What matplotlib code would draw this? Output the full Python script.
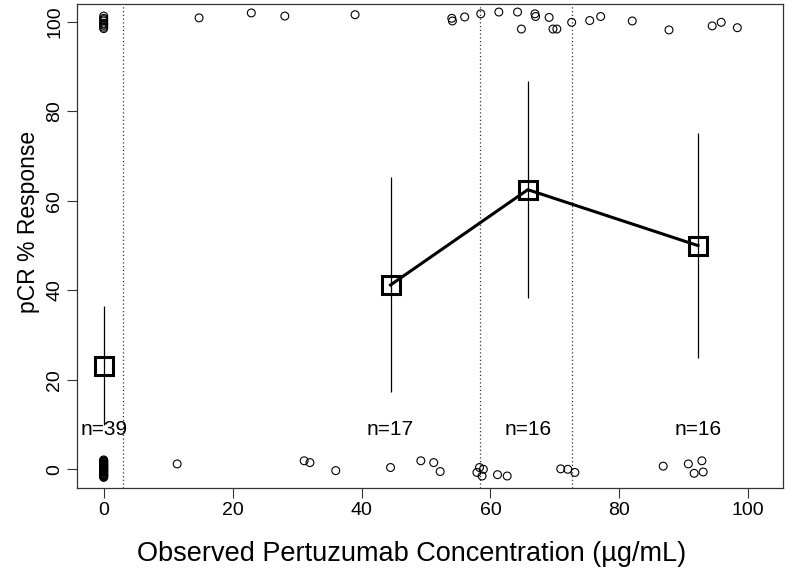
import matplotlib
matplotlib.use("Agg")
import matplotlib.pyplot as plt
from matplotlib import font_manager

# --------------------------------------------------------------------------------------------------------
# Data
# --------------------------------------------------------------------------------------------------------

# responders (jittered around 100)
resp_x = [0, 0, 0, 0, 0, 0, 0, 0, 0,
          14.8, 22.9, 28.1, 39.0, 54.0, 54.1, 56.0, 58.5, 61.3, 64.2, 64.8, 66.9, 67.0,
          69.1, 69.7, 70.3, 72.6, 75.4, 77.1, 82.0, 87.7, 94.4, 95.8, 98.3]
resp_y = [101.3, 100.8, 100.2, 99.7, 99.2, 98.8, 98.5, 100.5, 99.5,
          100.9, 102.0, 101.3, 101.6, 100.8, 100.2, 101.1, 101.8, 102.2, 102.2, 98.4, 101.8, 101.2,
          101.0, 98.4, 98.4, 99.9, 100.3, 101.2, 100.2, 98.2, 99.1, 99.9, 98.7]

# non-responders (jittered around 0)
nonresp_x = [0] * 30 + [11.4, 31.1, 32.0, 36.0, 44.5, 49.2, 51.2, 52.2, 57.9, 58.3, 58.9, 58.7,
                        61.1, 62.6, 70.9, 72.0, 73.1, 86.8, 90.7, 91.6, 92.8, 93.0]
nonresp_y = [2.1, 1.9, 1.7, 1.5, 1.3, 1.1, 0.9, 0.7, 0.5, 0.3, 0.1, -0.1, -0.3, -0.5, -0.7,
             -0.9, -1.1, -1.3, -1.5, -1.7, -1.8, 1.8, 1.2, 0.6, 0.0, -0.6, -1.2, 1.0, -0.2, -1.4] + \
            [1.2, 1.9, 1.5, -0.3, 0.4, 1.9, 1.5, -0.5, -0.7, 0.4, 0.0, -1.5,
             -1.2, -1.5, 0.1, 0.0, -0.7, 0.7, 1.2, -0.9, 1.9, -0.6]

# group summaries
group_x = [0, 44.5, 65.8, 92.2]
group_mean = [23.1, 41.2, 62.5, 50.0]
group_lo = [9.9, 17.3, 38.3, 24.8]
group_hi = [36.6, 65.3, 86.8, 75.2]
group_n = ["n=39", "n=17", "n=16", "n=16"]

# quartile cut points
cut_x = [3.0, 58.4, 72.6]

x_ticks = [0, 20, 40, 60, 80, 100]
y_ticks = [0, 20, 40, 60, 80, 100]

# --------------------------------------------------------------------------------------------------------
# Fonts (no narrow family here, so a smaller regular one stands in for it)
# --------------------------------------------------------------------------------------------------------
names = {f.name for f in font_manager.fontManager.ttflist}
if "Liberation Sans Narrow" in names:
    narrow = ["Liberation Sans Narrow", "Liberation Sans", "DejaVu Sans"]
    tick_size, xlab_size = 15.5, 23.5
else:
    narrow = ["Liberation Sans", "DejaVu Sans"]
    tick_size, xlab_size = 14, 19.5
regular = ["Liberation Sans", "DejaVu Sans"]

# --------------------------------------------------------------------------------------------------------
# Plot
# --------------------------------------------------------------------------------------------------------
fig = plt.figure(figsize=(7.86, 5.77), dpi=100)
ax = fig.add_axes([0.0983, 0.1537, 0.898, 0.8394])

for cx in cut_x:
    ax.axvline(cx, color="#333333", linestyle=(0, (1, 2)), linewidth=0.9)

ax.scatter(resp_x, resp_y, s=32, facecolors="none", edgecolors="black", linewidths=0.8, zorder=3)
ax.scatter(nonresp_x, nonresp_y, s=32, facecolors="none", edgecolors="black", linewidths=0.8, zorder=3)

ax.vlines(group_x, group_lo, group_hi, color="black", linewidth=0.9, zorder=2)
ax.plot(group_x[1:], group_mean[1:], color="black", linewidth=2.2, zorder=4)
ax.plot(group_x, group_mean, linestyle="none", marker="s", markersize=13.4,
        markerfacecolor="none", markeredgecolor="black", markeredgewidth=2.2, zorder=5)

for gx, label in zip(group_x, group_n):
    ax.text(gx, 8.8, label, ha="center", va="center", fontsize=15, family=regular)

ax.set_xlim(-4.1, 105.4)
ax.set_ylim(-4.25, 104.0)
ax.set_xticks(x_ticks)
ax.set_yticks(y_ticks)
ax.set_xticklabels([str(t) for t in x_ticks], family=narrow, fontsize=tick_size)
ax.set_yticklabels([str(t) for t in y_ticks], family=narrow, fontsize=tick_size, rotation=90, va="center")
ax.tick_params(length=7.2, width=0.8, color="#333333", pad=3)
for sp in ax.spines.values():
    sp.set_color("#333333")
    sp.set_linewidth(0.9)

ax.set_xlabel("Observed Pertuzumab Concentration (µg/mL)", family=narrow, fontsize=xlab_size, labelpad=12)
ax.xaxis.set_label_coords(0.474, -0.108)
ax.set_ylabel("pCR % Response", family=regular, fontsize=16.5, labelpad=6)
ax.yaxis.set_label_coords(-0.053, 0.55)

plt.savefig("out.png", dpi=100)
